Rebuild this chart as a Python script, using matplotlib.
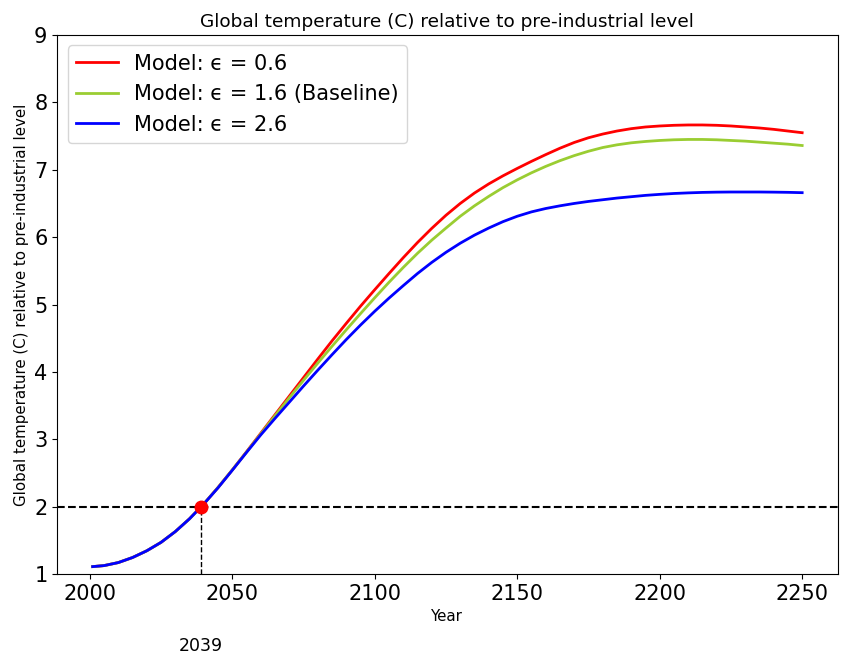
import numpy as np
import matplotlib
matplotlib.use('Agg')
import matplotlib.pyplot as plt

# simulated warming paths, sampled every 5 years (first point is 2001)
years = [2001] + list(range(2005, 2251, 5))

temp_eps_06 = [
    1.11, 1.125, 1.17, 1.245, 1.345, 1.47, 1.63, 1.82, 2.04, 2.285,
    2.545, 2.815, 3.09, 3.365, 3.64, 3.915, 4.19, 4.46, 4.72, 4.975,
    5.22, 5.46, 5.695, 5.92, 6.13, 6.325, 6.50, 6.655, 6.79, 6.91,
    7.02, 7.125, 7.225, 7.32, 7.405, 7.475, 7.53, 7.575, 7.61, 7.635,
    7.65, 7.66, 7.665, 7.665, 7.66, 7.65, 7.635, 7.62, 7.60, 7.575,
    7.55,
]
temp_eps_16 = [
    1.11, 1.125, 1.17, 1.245, 1.345, 1.47, 1.63, 1.82, 2.04, 2.285,
    2.545, 2.81, 3.08, 3.35, 3.615, 3.875, 4.13, 4.38, 4.625, 4.865,
    5.10, 5.33, 5.55, 5.76, 5.955, 6.135, 6.31, 6.465, 6.605, 6.735,
    6.85, 6.955, 7.05, 7.135, 7.21, 7.275, 7.33, 7.37, 7.40, 7.42,
    7.435, 7.445, 7.45, 7.45, 7.445, 7.435, 7.425, 7.41, 7.395, 7.38,
    7.36,
]
temp_eps_26 = [
    1.11, 1.125, 1.17, 1.245, 1.345, 1.47, 1.63, 1.82, 2.04, 2.28,
    2.54, 2.805, 3.065, 3.31, 3.55, 3.79, 4.025, 4.255, 4.48, 4.695,
    4.90, 5.095, 5.28, 5.46, 5.625, 5.775, 5.91, 6.03, 6.135, 6.23,
    6.31, 6.375, 6.425, 6.465, 6.50, 6.53, 6.555, 6.58, 6.60, 6.62,
    6.635, 6.648, 6.657, 6.664, 6.668, 6.67, 6.67, 6.67, 6.668, 6.665,
    6.66,
]

threshold = 2.0
cross_year = 2039

fig = plt.figure(figsize=(8.41, 6.57), dpi=100)
ax = fig.add_axes([0.068, 0.1263, 0.928, 0.8204])

ax.plot(years, temp_eps_06, color='red', lw=2, label='Model: ϵ = 0.6')
ax.plot(years, temp_eps_16, color='yellowgreen', lw=2, label='Model: ϵ = 1.6 (Baseline)')
ax.plot(years, temp_eps_26, color='blue', lw=2, label='Model: ϵ = 2.6')

# 2 degree threshold and the year it is first reached
ax.axhline(threshold, color='black', ls='--', lw=1.5)
ax.plot([cross_year, cross_year], [1, threshold], color='black', ls='--', lw=1)
ax.plot(cross_year, threshold, 'o', color='red', markersize=9)
ax.text(cross_year, -0.07, str(cross_year), ha='center', va='center', fontsize=12.5)

ax.set_ylim(1, 9)
ax.set_title('Global temperature (C) relative to pre-industrial level', fontsize=13.3)
ax.set_xlabel('Year', fontsize=10.8)
ax.set_ylabel('Global temperature (C) relative to pre-industrial level', fontsize=10.8)
ax.tick_params(labelsize=15)
ax.legend(loc='upper left', fontsize=15)

plt.savefig('out.png', dpi=100)
